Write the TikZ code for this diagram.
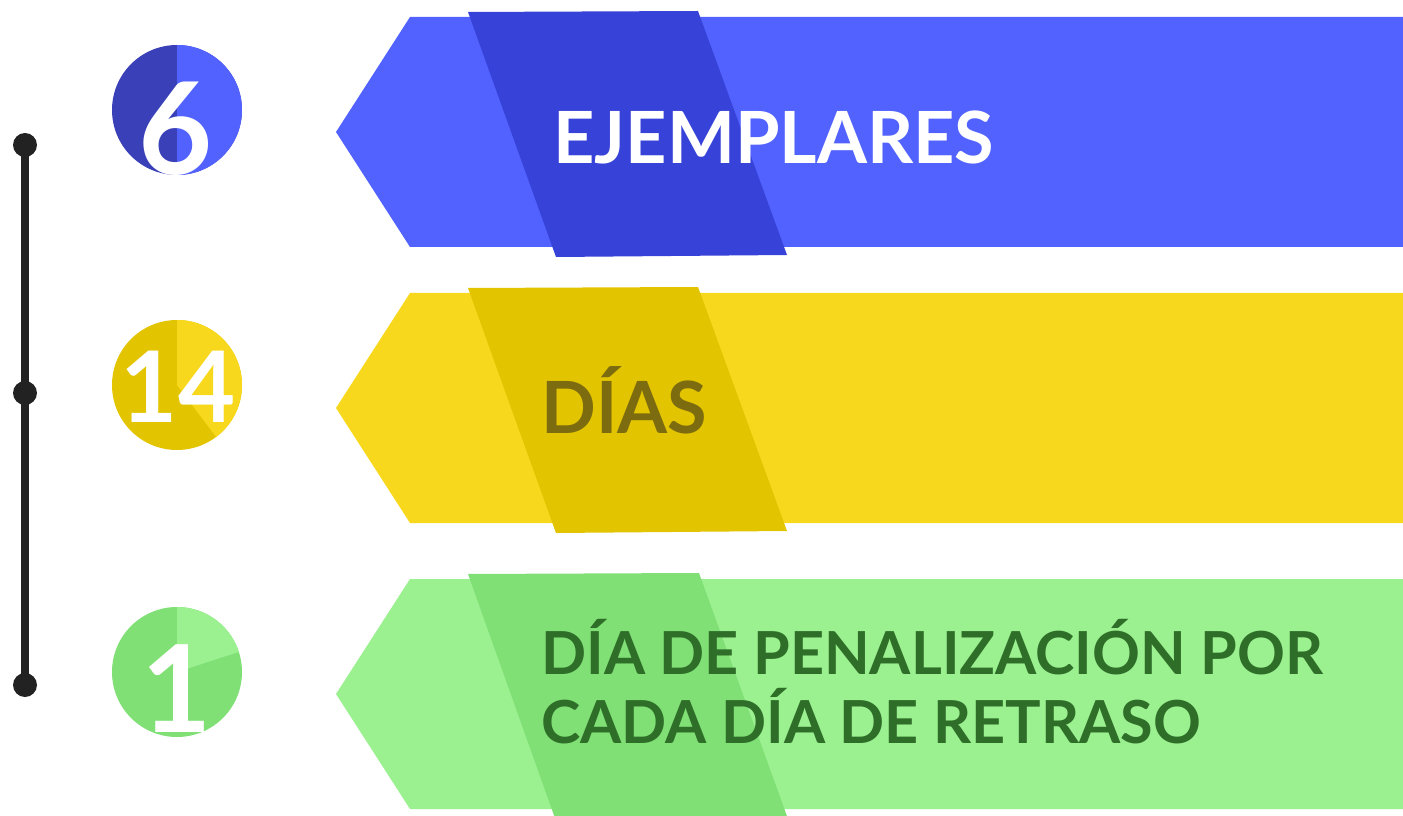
\documentclass[tikz,border=0pt]{standalone}
\usepackage{fontspec}
\setmainfont{Lato}
\usetikzlibrary{calc}
\definecolor{bluelight}{HTML}{5262FF}
\definecolor{bluedark}{HTML}{3742D8}
\definecolor{bluecirc}{HTML}{3A40B8}
\definecolor{yellight}{HTML}{F7D81C}
\definecolor{yeldark}{HTML}{E3C400}
\definecolor{yeltext}{HTML}{7D6C0F}
\definecolor{grnlight}{HTML}{9BF090}
\definecolor{grndark}{HTML}{80E076}
\definecolor{grntext}{HTML}{2E6E28}
\definecolor{tline}{HTML}{222222}
\tikzset{
  bigtext/.style={anchor=base west, inner sep=0pt, font=\bfseries\fontsize{54}{60}\selectfont},
  smalltext/.style={anchor=base west, inner sep=0pt, font=\bfseries\fontsize{44.5}{52}\selectfont},
  digit/.style={anchor=base, inner sep=0pt, text=white},
  dot/.style={circle, fill=tline, minimum size=18pt, inner sep=0pt},
}
\begin{document}
\begin{tikzpicture}[x=0.75pt,y=-0.75pt]
\useasboundingbox (0,0) rectangle (1403,816);
\clip (0,0) rectangle (1403,816);
% band 1
\fill[bluelight] (336,132) -- (410,17) -- (1403,17) -- (1403,247) -- (410,247) -- cycle;
\fill[bluedark] (468,12) -- (698,11) -- (787,255) -- (556,257) -- cycle;
% band 2
\fill[yellight] (336,408) -- (410,293) -- (1403,293) -- (1403,523) -- (410,523) -- cycle;
\fill[yeldark] (468,288) -- (698,287) -- (787,531) -- (556,533) -- cycle;
% band 3
\fill[grnlight] (336,694) -- (410,579) -- (1403,579) -- (1403,809) -- (410,809) -- cycle;
\fill[grndark] (468,574) -- (699,573) -- (788,819) -- (556,821) -- cycle;
% texts
\node[bigtext, text=white] (t1) at (553,164) {EJEMPLARES};
\node[bigtext, text=yeltext] (t2) at (541,434) {DÍAS};
\node[smalltext, text=grntext] (t3a) at (541,674) {DÍA DE PENALIZACIÓN POR};
\node[smalltext, text=grntext] (t3b) at (541,743) {CADA DÍA DE RETRASO};
% circles
\coordinate (c1) at (177,110);
\coordinate (c2) at (177,385);
\coordinate (c3) at (177,672);
\fill[bluecirc] (c1) circle[radius=65];
\fill[bluelight] (c1) -- ($(c1)+(-90:65)$) arc[start angle=-90, end angle=90, radius=65] -- cycle;
\fill[yeldark] (c2) circle[radius=65];
\fill[yellight] (c2) -- ($(c2)+(-90:65)$) arc[start angle=-90, end angle=53, radius=65] -- cycle;
\fill[grndark] (c3) circle[radius=65];
\fill[grnlight] (c3) -- ($(c3)+(-90:65)$) arc[start angle=-90, end angle=-18, radius=65] -- cycle;
\node[digit, font=\bfseries\fontsize{96}{100}\selectfont] (d1) at (176,175) {6};
\node[digit, font=\bfseries\fontsize{74}{80}\selectfont] (d2) at (178,423) {14};
\node[digit, font=\bfseries\fontsize{91}{96}\selectfont] (d3) at (177,732) {1};
% timeline
\node[dot] (p1) at (25,145) {};
\node[dot] (p2) at (25,393) {};
\node[dot] (p3) at (25,685) {};
\draw[tline, line width=5.5pt] (p1.center) -- (p2.center) -- (p3.center);
\end{tikzpicture}
\end{document}
